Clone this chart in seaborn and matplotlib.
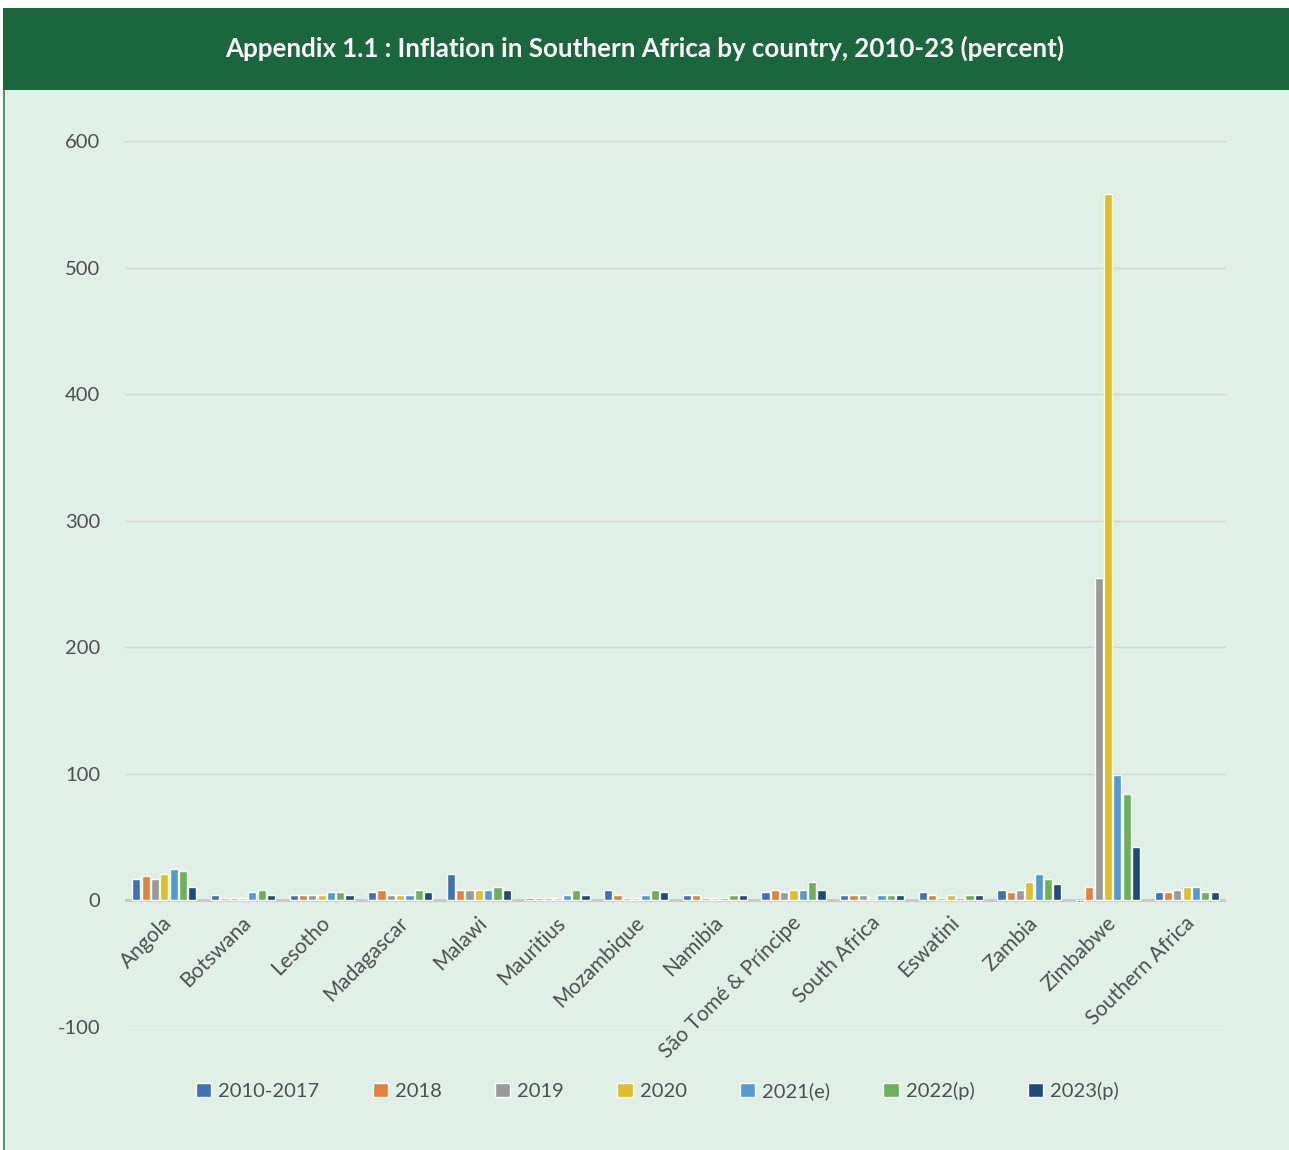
import matplotlib
matplotlib.use("Agg")
import matplotlib.pyplot as plt
from matplotlib.patches import Rectangle
from matplotlib.transforms import ScaledTranslation
import seaborn as sns
import pandas as pd

countries = ["Angola", "Botswana", "Lesotho", "Madagascar", "Malawi", "Mauritius",
             "Mozambique", "Namibia", "São Tomé & Príncipe", "South Africa",
             "Eswatini", "Zambia", "Zimbabwe", "Southern Africa"]
periods = ["2010-2017", "2018", "2019", "2020", "2021(e)", "2022(p)", "2023(p)"]

v_2010_2017 = [16.8, 4.2, 4.2, 6.3, 21.0, 1.8, 8.1, 4.2, 6.3, 4.2, 6.3, 8.1, -0.9, 6.3]
v_2018 = [19.2, 1.8, 4.2, 8.1, 8.1, 1.8, 4.2, 4.2, 8.1, 4.2, 4.2, 6.3, 10.7, 6.3]
v_2019 = [16.8, 1.8, 4.2, 4.2, 8.1, 1.8, 1.8, 1.8, 6.3, 4.2, 1.8, 8.1, 255.0, 8.1]
v_2020 = [21.0, 1.8, 4.2, 4.2, 8.1, 1.8, 1.8, 1.8, 8.1, 1.8, 4.2, 14.4, 558.0, 10.5]
v_2021 = [25.2, 6.3, 6.3, 4.2, 8.1, 4.2, 4.2, 1.8, 8.1, 4.2, 1.8, 21.0, 99.3, 10.5]
v_2022 = [23.1, 8.1, 6.3, 8.1, 10.5, 8.1, 8.1, 4.2, 14.4, 4.2, 4.2, 16.8, 84.0, 6.3]
v_2023 = [10.5, 4.2, 4.2, 6.3, 8.1, 4.2, 6.3, 4.2, 8.1, 4.2, 4.2, 12.6, 42.0, 6.3]

series = [v_2010_2017, v_2018, v_2019, v_2020, v_2021, v_2022, v_2023]
colors = ["#3f71ba", "#e6803c", "#999b9b", "#e1bd26", "#509bd4", "#6bb156", "#1c4b7c"]

rows = []
for period, vals in zip(periods, series):
    for c, v in zip(countries, vals):
        rows.append({"country": c, "period": period, "value": v})
df = pd.DataFrame(rows)

BG = "#e1f0e6"
DARK_GREEN = "#1a673e"
TEXT = "#4f4f4f"

sns.set_theme(style="white")
plt.rcParams["font.family"] = ["Lato", "DejaVu Sans"]
plt.rcParams["axes.unicode_minus"] = False

fig = plt.figure(figsize=(12.89, 11.5), dpi=100)
fig.patch.set_facecolor("white")

# background panel, header band and left rule
fig.patches.append(Rectangle((3 / 1289, 0), 1 - 3 / 1289, 1 - 90 / 1150,
                             transform=fig.transFigure, facecolor=BG,
                             edgecolor="none", zorder=-3))
fig.patches.append(Rectangle((3 / 1289, 1 - 90 / 1150), 1 - 3 / 1289, 82 / 1150,
                             transform=fig.transFigure, facecolor=DARK_GREEN,
                             edgecolor="none", zorder=-2))
fig.patches.append(Rectangle((3 / 1289, 0), 2 / 1289, 1 - 90 / 1150,
                             transform=fig.transFigure, facecolor="#4f9a6c",
                             edgecolor="none", zorder=-1))
fig.text(0.5, 1 - 48 / 1150,
         "Appendix 1.1 : Inflation in Southern Africa by country, 2010-23 (percent)",
         ha="center", va="center", color="white", fontsize=18.6, fontweight="bold")

ax = fig.add_axes([125 / 1289, 1 - 1027 / 1150, (1226 - 125) / 1289, (1027 - 141) / 1150])
ax.set_facecolor(BG)

sns.barplot(data=df, x="country", y="value", hue="period", palette=colors,
            width=0.83, gap=0.12, ax=ax, legend=True, saturation=1,
            errorbar=None)
for bar in ax.patches:
    bar.set_zorder(3)

ax.set_ylim(-100, 600)
ax.set_yticks(range(-100, 601, 100))
ax.set_xlim(-0.5, len(countries) - 0.5)
for y in range(-100, 601, 100):
    if y == 0:
        ax.axhline(y, color="#c9cbc9", lw=2.2, zorder=1)
    else:
        ax.axhline(y, color="#d3d5d3", lw=1.0, zorder=0.5)
for s in ax.spines.values():
    s.set_visible(False)
# category labels hang from the zero line
ax.spines["bottom"].set_position(("data", 0))
ax.set_xlabel("")
ax.set_ylabel("")
ax.tick_params(axis="y", length=0, pad=18, labelsize=14.5, labelcolor=TEXT)
ax.tick_params(axis="x", length=0, pad=14, labelsize=15, labelcolor=TEXT)
ax.set_xticks(range(len(countries)))
ax.set_xticklabels(countries, rotation=45, ha="right", va="center",
                   rotation_mode="anchor")
shift = ScaledTranslation(5 / 100, 0, fig.dpi_scale_trans)
for lab in ax.get_xticklabels():
    lab.set_transform(lab.get_transform() + shift)
ax.grid(False)

handles, labels = ax.get_legend_handles_labels()
ax.legend_.remove()
fig.legend(handles, labels, loc="center", bbox_to_anchor=(0.510, 1 - 1091 / 1150),
           ncol=7, frameon=False, fontsize=14.5, handlelength=0.75, handleheight=0.75,
           handletextpad=0.35, columnspacing=2.65, labelcolor=TEXT)

fig.savefig("out.png", dpi=100, facecolor=fig.get_facecolor())
